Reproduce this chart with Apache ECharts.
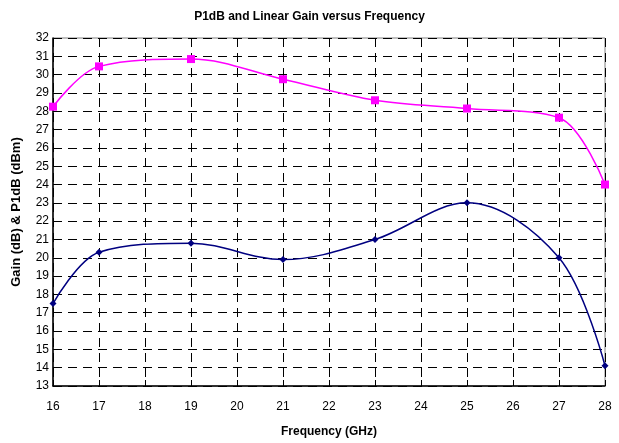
<!DOCTYPE html>
<html><head><meta charset="utf-8">
<script src="https://cdn.jsdelivr.net/npm/echarts@6/dist/echarts.min.js"></script>
<style>html,body{margin:0;padding:0;background:#fff}#c{width:619px;height:443px}</style>
</head><body><div id="c"></div>
<script>
const freqP1dB = [16, 17, 19, 21, 23, 25, 27, 28];
const p1dB = [28.25, 30.45, 30.85, 29.75, 28.6, 28.15, 27.65, 24.0];
const freqGain = [16, 17, 19, 21, 23, 25, 27, 28];
const gain = [17.5, 20.3, 20.8, 19.9, 21.0, 23.0, 20.0, 14.1];
const xTicks = [16,17,18,19,20,21,22,23,24,25,26,27,28];
const yTicks = [13,14,15,16,17,18,19,20,21,22,23,24,25,26,27,28,29,30,31,32];

const font = 'Liberation Sans, Arial, sans-serif';
const chart = echarts.init(document.getElementById('c'));
chart.setOption({
  animation: false,
  title: { text: 'P1dB and Linear Gain versus Frequency', left: 'center', top: 6,
    textStyle: { fontFamily: font, fontSize: 12, fontWeight: 'bold', color: '#000' } },
  grid: { left: 53, right: 14, top: 38, bottom: 57, show: true, borderColor: '#808080', borderWidth: 1 },
  xAxis: {
    type: 'value', min: xTicks[0], max: xTicks[xTicks.length-1], interval: 1,
    name: 'Frequency (GHz)', nameLocation: 'middle', nameGap: 40,
    nameTextStyle: { fontFamily: font, fontSize: 12, fontWeight: 'bold', color: '#000' },
    axisLine: { lineStyle: { color: '#000', width: 1.5 } },
    axisTick: { inside: true, length: 6, lineStyle: { color: '#000' } },
    axisLabel: { fontFamily: font, fontSize: 12, color: '#000', margin: 15 },
    splitLine: { show: true, lineStyle: { color: '#000', type: [9, 6], width: 1 } }
  },
  yAxis: {
    type: 'value', min: yTicks[0], max: yTicks[yTicks.length-1], interval: 1,
    name: 'Gain (dB) & P1dB (dBm)', nameLocation: 'middle', nameGap: 30,
    nameTextStyle: { fontFamily: font, fontSize: 13, fontWeight: 'bold', color: '#000' },
    axisLine: { show: true, lineStyle: { color: '#000', width: 1.5 } },
    axisTick: { show: true, inside: true, length: 6, lineStyle: { color: '#000' } },
    axisLabel: { fontFamily: font, fontSize: 12, color: '#000', margin: 4 },
    splitLine: { show: true, lineStyle: { color: '#000', type: [9, 6], width: 1 } }
  },
  series: [
    { name: 'P1dB', type: 'line', smooth: 0.35,
      data: freqP1dB.map((f,i)=>[f, p1dB[i]]),
      symbol: 'rect', symbolSize: 8,
      lineStyle: { color: '#ff00ff', width: 1.5 }, itemStyle: { color: '#ff00ff' } },
    { name: 'Gain', type: 'line', smooth: 0.35,
      data: freqGain.map((f,i)=>[f, gain[i]]),
      symbol: 'diamond', symbolSize: 7,
      lineStyle: { color: '#000080', width: 1.5 }, itemStyle: { color: '#000080' } }
  ]
});
</script></body></html>
